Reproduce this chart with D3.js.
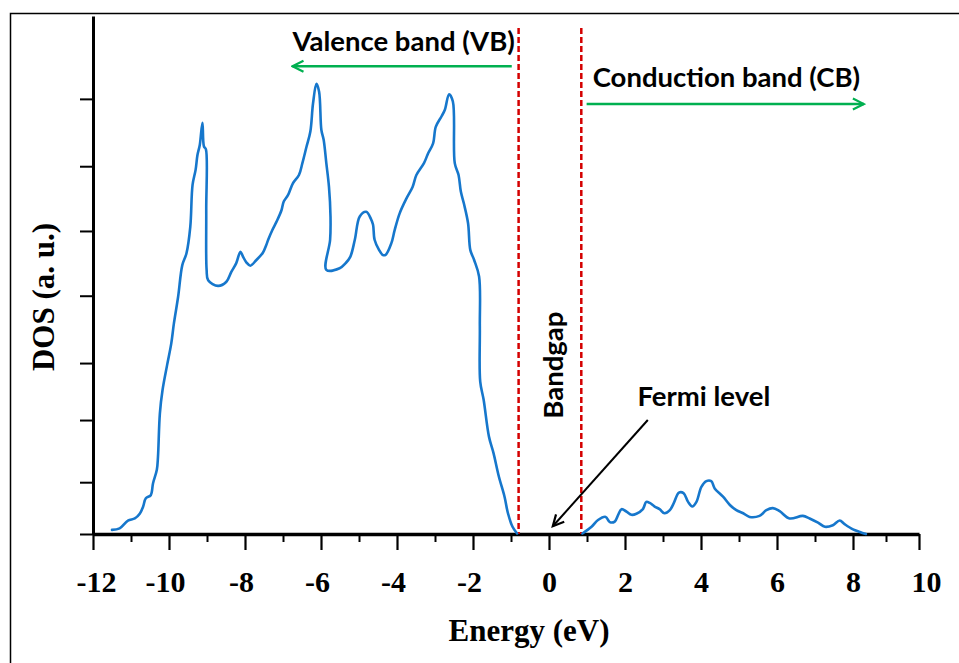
<!DOCTYPE html>
<html>
<head>
<meta charset="utf-8">
<script src="https://cdn.jsdelivr.net/npm/d3@7"></script>
<style>
  body { margin: 0; background: #fff; }
  svg { display: block; }
</style>
</head>
<body>
<div id="dosChart"></div>
<script>
// DOS (energy in eV, DOS in arbitrary units)
const energyVB = [-11.50, -11.30, -11.08, -10.90, -10.77, -10.68, -10.61, -10.48, -10.42, -10.32,
    -10.29, -10.24, -10.17, -10.05, -9.94, -9.87, -9.76, -9.65, -9.54, -9.44,
    -9.38, -9.30, -9.25, -9.19, -9.12, -9.08, -9.03, -9.02, -9.01, -8.97,
    -8.71, -8.49, -8.36, -8.23, -8.12, -8.05, -7.96, -7.86, -7.70, -7.53,
    -7.44, -7.39, -7.28, -7.17, -7.04, -6.98, -6.87, -6.74, -6.58, -6.49,
    -6.38, -6.28, -6.21, -6.12, -6.05, -5.99, -5.93, -5.86, -5.79, -5.75,
    -5.76, -5.86, -5.51, -5.35, -5.23, -5.11, -4.98, -4.81, -4.69, -4.63,
    -4.59, -4.47, -4.38, -4.30, -4.15, -4.06, -3.93, -3.75, -3.59, -3.49,
    -3.29, -3.18, -3.05, -2.98, -2.83, -2.74, -2.63, -2.53, -2.48, -2.38,
    -2.32, -2.24, -2.13, -2.07, -1.97, -1.84, -1.82, -1.81, -1.72, -1.58,
    -1.46, -1.32, -1.17, -1.08, -0.96, -0.84];
const dosVB = [0.8, 1.1, 2.6, 3.0, 3.9, 5.3, 6.9, 7.5, 9.8, 12.4,
    14.9, 23.3, 27.8, 32.6, 36.8, 40.7, 45.8, 51.9, 54.2, 59.3,
    67.4, 70.3, 73.2, 75.1, 79.4, 74.8, 74.3, 62.5, 51.0, 49.0,
    47.9, 48.7, 50.6, 52.3, 54.5, 53.5, 52.4, 51.8, 52.9, 54.3,
    55.8, 56.8, 58.7, 60.3, 62.5, 64.2, 65.4, 67.7, 69.3, 71.6,
    74.8, 77.7, 83.1, 86.9, 85.4, 78.0, 76.1, 71.6, 67.0, 61.3,
    56.8, 51.0, 51.3, 52.3, 53.5, 56.8, 61.3, 62.2, 60.9, 59.7,
    56.8, 54.8, 53.9, 53.9, 56.1, 58.7, 61.9, 64.8, 67.0, 69.3,
    71.6, 73.5, 75.4, 78.6, 80.6, 81.9, 84.9, 83.5, 71.6, 69.3,
    66.1, 63.8, 60.0, 54.8, 52.9, 49.7, 40.0, 29.4, 25.9, 18.8,
    15.6, 11.1, 7.2, 4.0, 1.4, 0.1];

const energyCB = [0.88, 1.12, 1.29, 1.49, 1.60, 1.73, 1.82, 1.91, 2.04, 2.17,
    2.30, 2.47, 2.56, 2.65, 2.78, 2.91, 3.04, 3.18, 3.28, 3.42,
    3.54, 3.66, 3.77, 3.88, 4.01, 4.14, 4.27, 4.36, 4.58, 4.76,
    4.93, 5.11, 5.28, 5.54, 5.72, 5.89, 6.07, 6.33, 6.68, 6.86,
    7.08, 7.26, 7.47, 7.65, 7.78, 8.00, 8.21, 8.39];
const dosCB = [0.1, 1.4, 2.7, 3.3, 2.3, 2.4, 3.7, 4.8, 4.3, 3.7,
    3.9, 4.8, 6.2, 6.0, 5.3, 4.8, 4.0, 4.6, 5.9, 8.0,
    7.9, 6.2, 5.3, 6.2, 9.1, 10.2, 10.2, 8.8, 7.2, 5.6,
    4.6, 4.0, 3.3, 3.5, 4.6, 5.0, 4.4, 3.0, 3.5, 3.0,
    2.2, 1.4, 1.7, 2.6, 1.9, 0.9, 0.4, 0.0];

const xMajorTicks = [-12, -10, -8, -6, -4, -2, 0, 2, 4, 6, 8, 10];
const xMinorTicks = [-11, -9, -7, -5, -3, -1, 1, 3, 5, 7, 9];
const yTicks = [0, 10, 22, 33, 46, 58.5, 71, 84];

const bandEdges = [-0.80, 0.85];   // VB maximum, CB minimum (eV)

const width = 959, height = 663;
const serif = "'Liberation Serif', 'Times New Roman', serif";
const sans = "Lato, 'Open Sans', sans-serif";

const svg = d3.select("#dosChart").append("svg")
    .attr("width", width)
    .attr("height", height);

// outer frame (left + top only)
svg.append("path")
    .attr("d", `M10.5,${height} V13.5 H${width}`)
    .attr("fill", "none")
    .attr("stroke", "#000")
    .attr("stroke-width", 1.5);

// the last tick (10) sits closer than the rest, as in the picture
const x = d3.scaleLinear().domain([-12, 8, 10]).range([93, 853, 919]);
const y = d3.scaleLinear().domain([0, 100]).range([534, 16]);

// markers
const defs = svg.append("defs");
function chevron(id, color) {
    defs.append("marker")
        .attr("id", id)
        .attr("viewBox", "-1 -7 14 14")
        .attr("refX", 11)
        .attr("refY", 0)
        .attr("markerWidth", 14)
        .attr("markerHeight", 14)
        .attr("markerUnits", "userSpaceOnUse")
        .attr("orient", "auto")
        .append("path")
        .attr("d", "M0,-5.5 L11,0 L0,5.5")
        .attr("fill", "none")
        .attr("stroke", color)
        .attr("stroke-width", 2.2);
}
chevron("greenHead", "#00b050");
chevron("blackHead", "#000");

// axes
const yAxis = svg.append("g")
    .attr("transform", `translate(${x(-12)},0)`)
    .call(d3.axisLeft(y).tickValues(yTicks).tickSize(13).tickSizeOuter(0).tickFormat(""));
yAxis.select(".domain").attr("stroke-width", 3);
yAxis.selectAll(".tick line").attr("stroke-width", 2);

const xAxis = svg.append("g")
    .attr("transform", `translate(0,${y(0)})`)
    .call(d3.axisBottom(x).tickValues(xMajorTicks).tickSize(16).tickSizeOuter(0)
        .tickFormat(d3.format("d")));
xAxis.select(".domain").attr("stroke-width", 3.5);
xAxis.selectAll(".tick line").attr("stroke-width", 2.2);
xAxis.selectAll(".tick text")
    .attr("y", 58)
    .attr("dy", 0)
    .attr("dx", d => d === -12 ? 3 : d === 10 ? 7 : d < 0 ? -4 : 0)
    .attr("font-family", serif)
    .attr("font-weight", "bold")
    .attr("font-size", 30)
    .attr("fill", "#000")
    .text(d => d < 0 ? "-" + Math.abs(d) : d);

svg.append("g")
    .attr("transform", `translate(0,${y(0)})`)
    .call(d3.axisBottom(x).tickValues(xMinorTicks).tickSize(8).tickSizeOuter(0).tickFormat(""))
    .call(g => g.select(".domain").remove())
    .selectAll(".tick line").attr("stroke-width", 2);

// axis titles
svg.append("text")
    .attr("x", 529)
    .attr("y", 641)
    .attr("text-anchor", "middle")
    .attr("font-family", serif)
    .attr("font-weight", "bold")
    .attr("font-size", 31)
    .text("Energy (eV)");

svg.append("text")
    .attr("transform", "translate(54,297) rotate(-90)")
    .attr("text-anchor", "middle")
    .attr("font-family", serif)
    .attr("font-weight", "bold")
    .attr("font-size", 31)
    .text("DOS (a. u.)");

// band edges
svg.selectAll(".edge")
    .data(bandEdges)
    .enter()
    .append("line")
    .attr("class", "edge")
    .attr("x1", d => x(d))
    .attr("x2", d => x(d))
    .attr("y1", y(97.7))
    .attr("y2", y(0))
    .attr("stroke", "#d40000")
    .attr("stroke-width", 2.5)
    .attr("stroke-dasharray", "6,3");

// DOS curve
const line = d3.line()
    .curve(d3.curveCatmullRom.alpha(0.5))
    .x(d => x(d[0]))
    .y(d => y(d[1]));

const vb = d3.zip(energyVB, dosVB);
const cb = d3.zip(energyCB, dosCB);

svg.selectAll(".dos")
    .data([vb, cb])
    .enter()
    .append("path")
    .attr("class", "dos")
    .attr("d", line)
    .attr("fill", "none")
    .attr("stroke", "#1677cc")
    .attr("stroke-width", 2.6)
    .attr("stroke-linejoin", "round")
    .attr("stroke-linecap", "round");

// annotations
svg.append("line")
    .attr("x1", x(-0.98)).attr("y1", y(90.3))
    .attr("x2", x(-6.75)).attr("y2", y(90.3))
    .attr("stroke", "#00b050")
    .attr("stroke-width", 2.5)
    .attr("marker-end", "url(#greenHead)");

svg.append("line")
    .attr("x1", x(0.99)).attr("y1", y(83.0))
    .attr("x2", x(8.33)).attr("y2", y(83.0))
    .attr("stroke", "#00b050")
    .attr("stroke-width", 2.5)
    .attr("marker-end", "url(#greenHead)");

svg.append("line")
    .attr("x1", x(2.60)).attr("y1", y(22.0))
    .attr("x2", x(0.10)).attr("y2", y(1.5))
    .attr("stroke", "#000")
    .attr("stroke-width", 2)
    .attr("marker-end", "url(#blackHead)");

function note(txt, ex, dos, anchor, rotate) {
    const t = svg.append("text")
        .attr("font-family", sans)
        .attr("font-weight", "bold")
        .attr("font-size", 27.5)
        .attr("fill", "#000")
        .attr("text-anchor", anchor)
        .text(txt);
    if (rotate) {
        t.attr("transform", `translate(${x(ex)},${y(dos)}) rotate(-90)`);
    } else {
        t.attr("x", x(ex)).attr("y", y(dos));
    }
}
note("Valence band (VB)", -6.75, 93.2, "start");
note("Conduction band (CB)", 1.15, 86.3, "start");
note("Fermi level", 2.33, 24.7, "start");
note("Bandgap", 0.36, 32.6, "middle", true);
</script>
</body>
</html>
